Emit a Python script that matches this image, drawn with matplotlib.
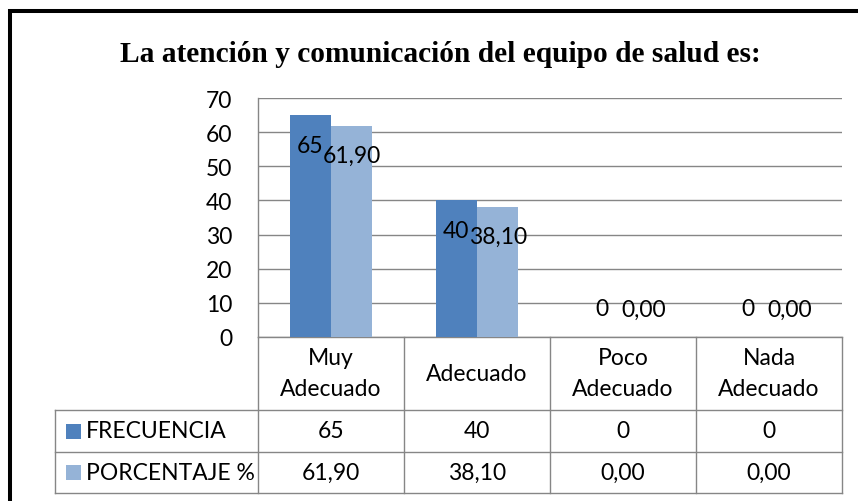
import numpy as np
import matplotlib
matplotlib.use("Agg")
import matplotlib.pyplot as plt
import matplotlib.transforms as mtransforms
from matplotlib.patches import Rectangle

# data
categories = ["Muy\nAdecuado", "Adecuado", "Poco\nAdecuado", "Nada\nAdecuado"]
series_names = ["FRECUENCIA", "PORCENTAJE %"]
frecuencia = [65, 40, 0, 0]
porcentaje = [61.90, 38.10, 0.00, 0.00]
title = "La atención y comunicación del equipo de salud es:"

c_dark = "#4F81BD"
c_light = "#95B3D7"
c_grid = "#868686"

plt.rcParams.update({
    "font.family": ["Lato", "DejaVu Sans"],
    "font.size": 16.5,
})


def fmt2(v):
    return f"{v:.2f}".replace(".", ",")


fig = plt.figure(figsize=(8.58, 5.02), dpi=100)
W, H = 858.0, 502.0

# outer black frame (runs off the right and bottom edges)
frame = Rectangle((10 / W, -0.1), 1.2, 1 - 12 / H + 0.1, transform=fig.transFigure,
                  fill=False, edgecolor="black", lw=2.9)
fig.add_artist(frame)

fig.text(440 / W, 1 - 55 / H, title, ha="center", va="center",
         fontfamily="Liberation Serif", fontweight="bold", fontsize=21.2)

ax = fig.add_axes([258 / W, 1 - 337.7 / H, 584 / W, 238.4 / H])

x = np.arange(len(categories))
bw = 0.284
ax.bar(x - bw / 2, frecuencia, bw, color=c_dark, zorder=3)
ax.bar(x + bw / 2, porcentaje, bw, color=c_light, zorder=3)

ax.set_xlim(-0.5, len(categories) - 0.5)
ax.set_ylim(0, 70)
ax.set_yticks(np.arange(0, 71, 10))
ax.set_xticks([])
ax.yaxis.grid(True, color=c_grid, lw=1.0)
ax.set_axisbelow(True)
for s in ["top", "right", "bottom"]:
    ax.spines[s].set_visible(False)
ax.spines["left"].set_color(c_grid)
ax.spines["left"].set_linewidth(1.0)
ax.tick_params(axis="y", length=0, pad=18.5, labelsize=16.5)

# data labels
for i in range(len(categories)):
    for v, txt, dx in [(frecuencia[i], str(frecuencia[i]), -bw / 2),
                       (porcentaje[i], fmt2(porcentaje[i]), bw / 2)]:
        off = -21.5 if v > 10 else 20
        ax.annotate(txt, (x[i] + dx, v), xytext=(0, off), textcoords="offset points",
                    ha="center", va="center", zorder=5)

# data table under the plot
blend = mtransforms.blended_transform_factory(ax.transData, ax.transAxes)
px = 238.4
y_head = (337.7 - 410.5) / px
y_r1 = (337.7 - 452.5) / px
y_r2 = (337.7 - 494.0) / px
x_left = (55 - 258) / 146.0 - 0.5
x_right = len(categories) - 0.5
lk = dict(color=c_grid, lw=1.0, transform=blend, clip_on=False)

ax.plot([-0.5, x_right], [0, 0], **lk)
for yy in [y_head, y_r1, y_r2]:
    ax.plot([x_left, x_right], [yy, yy], **lk)
for xx in np.arange(-0.5, len(categories), 1.0):
    ax.plot([xx, xx], [0, y_r2], **lk)
ax.plot([x_left, x_left], [y_head, y_r2], **lk)

for i, c in enumerate(categories):
    ax.text(x[i], y_head / 2, c, ha="center", va="center", linespacing=1.55,
            transform=blend, clip_on=False)

rows = [(series_names[0], c_dark, [str(v) for v in frecuencia], (y_head + y_r1) / 2),
        (series_names[1], c_light, [fmt2(v) for v in porcentaje], (y_r1 + y_r2) / 2)]
key_x = (72.5 - 258) / 146.0 - 0.5
lab_x = (86 - 258) / 146.0 - 0.5
for name, col, vals, yc in rows:
    ax.plot([key_x], [yc], marker="s", ms=10.8, mew=0, color=col,
            transform=blend, clip_on=False)
    ax.text(lab_x, yc, name, ha="left", va="center", transform=blend, clip_on=False)
    for i, t in enumerate(vals):
        ax.text(x[i], yc, t, ha="center", va="center", transform=blend, clip_on=False)

fig.savefig("out.png", dpi=100)
